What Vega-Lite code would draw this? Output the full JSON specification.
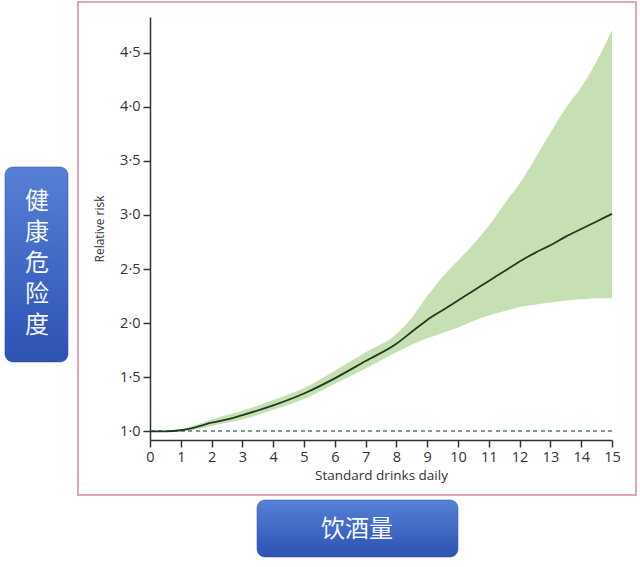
{
  "$schema": "https://vega.github.io/schema/vega-lite/v6.json",
  "width": 462,
  "height": 423,
  "autosize": {"type": "none"},
  "padding": {"left": 150, "top": 17, "right": 28, "bottom": 127},
  "background": "#ffffff",
  "config": {
    "view": {"stroke": null},
    "axis": {
      "grid": false,
      "domainColor": "#333333",
      "domainWidth": 1.5,
      "tickColor": "#333333",
      "tickWidth": 1.5,
      "tickSize": 7,
      "labelFont": "Open Sans",
      "labelFontSize": 14.5,
      "labelColor": "#333333",
      "labelPadding": 3,
      "titleFont": "Open Sans",
      "titleFontWeight": "normal",
      "titleColor": "#333333"
    },
    "axisX": {"titleFontSize": 13.5, "titlePadding": 5, "labelFlush": false},
    "axisY": {"titleFontSize": 12, "titlePadding": 13}
  },
  "datasets": {
    "risk": [
      {"drinks": 0, "rr": 1.0, "lo": 1.0, "hi": 1.0},
      {"drinks": 0.5, "rr": 1.0, "lo": 0.995, "hi": 1.005},
      {"drinks": 1, "rr": 1.01, "lo": 1.0, "hi": 1.02},
      {"drinks": 1.5, "rr": 1.04, "lo": 1.02, "hi": 1.06},
      {"drinks": 2, "rr": 1.08, "lo": 1.05, "hi": 1.11},
      {"drinks": 2.5, "rr": 1.11, "lo": 1.08, "hi": 1.15},
      {"drinks": 3, "rr": 1.15, "lo": 1.11, "hi": 1.19},
      {"drinks": 4, "rr": 1.24, "lo": 1.2, "hi": 1.29},
      {"drinks": 5, "rr": 1.35, "lo": 1.3, "hi": 1.4},
      {"drinks": 6, "rr": 1.49, "lo": 1.44, "hi": 1.56},
      {"drinks": 7, "rr": 1.65, "lo": 1.58, "hi": 1.73},
      {"drinks": 8, "rr": 1.81, "lo": 1.73, "hi": 1.9},
      {"drinks": 8.5, "rr": 1.92, "lo": 1.8, "hi": 2.05},
      {"drinks": 9, "rr": 2.03, "lo": 1.86, "hi": 2.25},
      {"drinks": 9.5, "rr": 2.12, "lo": 1.91, "hi": 2.43},
      {"drinks": 10, "rr": 2.21, "lo": 1.96, "hi": 2.58},
      {"drinks": 10.5, "rr": 2.3, "lo": 2.02, "hi": 2.73},
      {"drinks": 11, "rr": 2.39, "lo": 2.07, "hi": 2.9},
      {"drinks": 11.5, "rr": 2.48, "lo": 2.11, "hi": 3.1},
      {"drinks": 12, "rr": 2.57, "lo": 2.15, "hi": 3.29},
      {"drinks": 12.5, "rr": 2.65, "lo": 2.17, "hi": 3.52},
      {"drinks": 13, "rr": 2.72, "lo": 2.19, "hi": 3.76},
      {"drinks": 13.5, "rr": 2.8, "lo": 2.21, "hi": 3.99},
      {"drinks": 14, "rr": 2.87, "lo": 2.22, "hi": 4.18},
      {"drinks": 14.5, "rr": 2.94, "lo": 2.23, "hi": 4.42},
      {"drinks": 15, "rr": 3.01, "lo": 2.23, "hi": 4.71}
    ],
    "frame": [
      {"x0": -2.338, "x1": 15.779, "y0": 0.4116, "y1": 4.9687}
    ],
    "boxes": [
      {"label": "健\n康\n危\n险\n度", "x0": -4.708, "x1": -2.662, "y0": 1.641, "y1": 3.4435, "tx": -3.669, "ty": 3.12},
      {"label": "饮酒量", "x0": 3.474, "x1": 10.0, "y0": -0.1615, "y1": 0.3654, "tx": 6.721, "ty": 0.0881}
    ]
  },
  "layer": [
    {
      "data": {"name": "risk"},
      "mark": {"type": "area", "color": "#c6e0b4", "opacity": 1, "interpolate": "monotone"},
      "encoding": {
        "x": {
          "field": "drinks", "type": "quantitative", "title": "Standard drinks daily",
          "scale": {"domain": [0, 15], "nice": false, "zero": false},
          "axis": {"values": [0, 1, 2, 3, 4, 5, 6, 7, 8, 9, 10, 11, 12, 13, 14, 15]}
        },
        "y": {
          "field": "lo", "type": "quantitative", "title": "Relative risk",
          "scale": {"domain": [0.92, 4.83], "nice": false, "zero": false},
          "axis": {"values": [1, 1.5, 2, 2.5, 3, 3.5, 4, 4.5], "labelExpr": "replace(format(datum.value, '.1f'), '.', '·')"}
        },
        "y2": {"field": "hi"}
      }
    },
    {
      "data": {"name": "frame"},
      "mark": {"type": "rect", "fill": "transparent", "stroke": "#e2a6b6", "strokeWidth": 2},
      "encoding": {
        "x": {
          "field": "x0", "type": "quantitative", "title": "Standard drinks daily",
          "scale": {"domain": [0, 15], "nice": false, "zero": false},
          "axis": {"values": [0, 1, 2, 3, 4, 5, 6, 7, 8, 9, 10, 11, 12, 13, 14, 15]}
        },
        "x2": {"field": "x1"},
        "y": {
          "field": "y0", "type": "quantitative", "title": "Relative risk",
          "scale": {"domain": [0.92, 4.83], "nice": false, "zero": false},
          "axis": {"values": [1, 1.5, 2, 2.5, 3, 3.5, 4, 4.5], "labelExpr": "replace(format(datum.value, '.1f'), '.', '·')"}
        },
        "y2": {"field": "y1"}
      }
    },
    {
      "data": {"name": "risk"},
      "mark": {"type": "rule", "color": "#7f9a90", "strokeWidth": 1.2, "strokeDash": [3.5, 4]},
      "encoding": {
        "y": {
          "datum": 1, "type": "quantitative", "title": "Relative risk",
          "scale": {"domain": [0.92, 4.83], "nice": false, "zero": false},
          "axis": {"values": [1, 1.5, 2, 2.5, 3, 3.5, 4, 4.5], "labelExpr": "replace(format(datum.value, '.1f'), '.', '·')"}
        }
      }
    },
    {
      "data": {"name": "risk"},
      "mark": {"type": "line", "color": "#1f3a22", "strokeWidth": 1.8, "interpolate": "monotone"},
      "encoding": {
        "x": {
          "field": "drinks", "type": "quantitative", "title": "Standard drinks daily",
          "scale": {"domain": [0, 15], "nice": false, "zero": false},
          "axis": {"values": [0, 1, 2, 3, 4, 5, 6, 7, 8, 9, 10, 11, 12, 13, 14, 15]}
        },
        "y": {
          "field": "rr", "type": "quantitative", "title": "Relative risk",
          "scale": {"domain": [0.92, 4.83], "nice": false, "zero": false},
          "axis": {"values": [1, 1.5, 2, 2.5, 3, 3.5, 4, 4.5], "labelExpr": "replace(format(datum.value, '.1f'), '.', '·')"}
        }
      }
    },
    {
      "data": {"name": "boxes"},
      "mark": {
        "type": "rect",
        "cornerRadius": 8,
        "stroke": "#2b4ea6",
        "strokeWidth": 0.5,
        "fill": {
          "gradient": "linear",
          "x1": 0, "y1": 0, "x2": 0, "y2": 1,
          "stops": [
            {"offset": 0, "color": "#5780d6"},
            {"offset": 1, "color": "#2d52b3"}
          ]
        }
      },
      "encoding": {
        "x": {
          "field": "x0", "type": "quantitative", "title": "Standard drinks daily",
          "scale": {"domain": [0, 15], "nice": false, "zero": false},
          "axis": {"values": [0, 1, 2, 3, 4, 5, 6, 7, 8, 9, 10, 11, 12, 13, 14, 15]}
        },
        "x2": {"field": "x1"},
        "y": {
          "field": "y0", "type": "quantitative", "title": "Relative risk",
          "scale": {"domain": [0.92, 4.83], "nice": false, "zero": false},
          "axis": {"values": [1, 1.5, 2, 2.5, 3, 3.5, 4, 4.5], "labelExpr": "replace(format(datum.value, '.1f'), '.', '·')"}
        },
        "y2": {"field": "y1"}
      }
    },
    {
      "data": {"name": "boxes"},
      "mark": {
        "type": "text",
        "font": "Noto Sans CJK SC",
        "fontSize": 24,
        "color": "#f4f7ff",
        "align": "center",
        "baseline": "middle",
        "lineBreak": "\n",
        "lineHeight": 31
      },
      "encoding": {
        "x": {
          "field": "tx", "type": "quantitative", "title": "Standard drinks daily",
          "scale": {"domain": [0, 15], "nice": false, "zero": false},
          "axis": {"values": [0, 1, 2, 3, 4, 5, 6, 7, 8, 9, 10, 11, 12, 13, 14, 15]}
        },
        "y": {
          "field": "ty", "type": "quantitative", "title": "Relative risk",
          "scale": {"domain": [0.92, 4.83], "nice": false, "zero": false},
          "axis": {"values": [1, 1.5, 2, 2.5, 3, 3.5, 4, 4.5], "labelExpr": "replace(format(datum.value, '.1f'), '.', '·')"}
        },
        "text": {"field": "label"}
      }
    }
  ]
}
